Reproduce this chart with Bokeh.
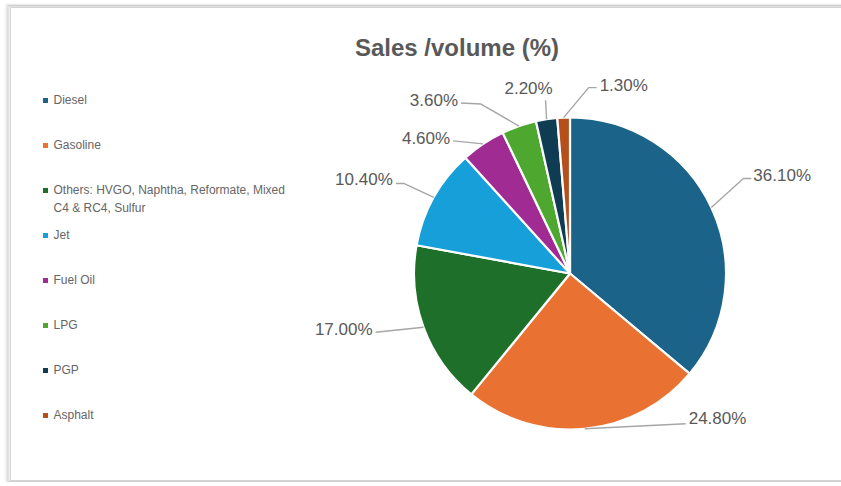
import math
import textwrap
from bokeh.plotting import figure
from bokeh.models import Range1d, ColumnDataSource
from bokeh.core.properties import value
from bokeh.embed import file_html
from bokeh.resources import INLINE

# ---------------- data ----------------
title = "Sales /volume (%)"
categories = ["Diesel", "Gasoline",
              "Others: HVGO, Naphtha, Reformate, Mixed C4 & RC4, Sulfur",
              "Jet", "Fuel Oil", "LPG", "PGP", "Asphalt"]
shares = [36.1, 24.8, 17.0, 10.4, 4.6, 3.6, 2.2, 1.3]
share_labels = ["36.10%", "24.80%", "17.00%", "10.40%", "4.60%", "3.60%", "2.20%", "1.30%"]

# ---------------- styles / layout ----------------
colors = ["#1B6388", "#E97132", "#1E6F2A", "#169FD8", "#A02B93", "#4EA72E", "#0F3C52", "#B5501C"]
W, H = 841, 486
PLOT_H = 482                              # slightly shorter than the window to avoid scrolling
CX, CY, R = 569.5, 273.0, 156.0          # pie centre / radius (screen px)
# leader line layout: (elbow dx, dy), (end dx, dy), text align, text dx, dy (screen px, y down)
leader_layout = [
    ((32, -29), (40, -29), "left", 2, -3),
    ((101, -5), (101, -5), "left", 3, -5),
    ((-48, 5), (-48, 5), "right", -3, -3),
    ((-30, -14), (-38, -14), "right", -3, -4),
    ((-30, -3), (-30, -3), "right", -3, -2),
    ((-38, -22), (-58, -23), "right", -3, -3),
    ((-1, -19), (-1, -19), "center", -17, -12),
    ((25, -30), (33, -30), "left", 3, -2),
]
TEXT_GREY = "#595959"


def sy(v):
    return H - v


p = figure(width=W, height=PLOT_H, output_backend="svg", toolbar_location=None,
           x_range=Range1d(0, W), y_range=Range1d(H - PLOT_H, H),
           x_axis_location=None, y_axis_location=None, min_border=0)
p.grid.visible = False
p.outline_line_color = None
p.background_fill_color = "white"
p.border_fill_color = "white"

# chart frame with soft shadow (right edge runs off the page)
for i, a in enumerate([0.10, 0.18, 0.30]):
    p.quad(left=5 + i * 1.5, right=W + 60, top=sy(4 + i * 0.7), bottom=sy(482 - i * 0.5),
           fill_color=None, line_color="#9a9a9a", line_alpha=a, line_width=2)
p.quad(left=10, right=W + 60, top=sy(7), bottom=sy(480),
       fill_color="white", line_color="#d4d4d4", line_width=1)

# title
p.text(x=[456.5], y=[sy(47)], text=[title], text_align="center", text_baseline="middle",
       text_font=value("Liberation Sans"), text_font_style="bold", text_font_size="24px",
       text_color=TEXT_GREY)

# pie wedges
total = sum(shares)
cum = [0.0]
for s in shares:
    cum.append(cum[-1] + s)
start = [math.pi / 2 - 2 * math.pi * cum[i] / total for i in range(len(shares))]
end = [math.pi / 2 - 2 * math.pi * cum[i + 1] / total for i in range(len(shares))]
src = ColumnDataSource(dict(start=start, end=end, color=colors, cat=categories))
p.wedge(x=CX, y=sy(CY), radius=R, start_angle="start", end_angle="end", direction="clock",
        fill_color="color", line_color="white", line_width=2.2, source=src)

# leader lines and labels
xs, ys, tx, ty, ta = [], [], [], [], []
for i in range(len(shares)):
    mid = 2 * math.pi * (cum[i] + cum[i + 1]) / 2 / total   # clockwise from 12 o'clock
    ex = CX + R * math.sin(mid)
    ey = CY - R * math.cos(mid)
    (edx, edy), (ndx, ndy), align, tdx, tdy = leader_layout[i]
    xs.append([ex, ex + edx, ex + ndx])
    ys.append([sy(ey), sy(ey + edy), sy(ey + ndy)])
    tx.append(ex + ndx + tdx)
    ty.append(sy(ey + ndy + tdy))
    ta.append(align)
p.multi_line(xs=xs, ys=ys, line_color="#a6a6a6", line_width=1.4)
p.text(x=tx, y=ty, text=share_labels, text_align=ta, text_baseline="middle",
       text_font=value("Liberation Sans"), text_font_size="17px", text_color=TEXT_GREY)

# legend (left column)
LEG_X, LEG_Y0, LEG_DY = 45, 100, 45
leg_y = [LEG_Y0 + i * LEG_DY for i in range(len(categories))]
leg_text = [textwrap.fill(c, 40) for c in categories]
p.rect(x=[LEG_X] * len(categories), y=[sy(v) for v in leg_y], width=5, height=5,
       fill_color=colors, line_color=None)
p.text(x=[LEG_X + 8] * len(categories), y=[sy(v - 8) for v in leg_y], text=leg_text,
       text_align="left", text_baseline="top", text_line_height=1.35,
       text_font=value("Liberation Sans"), text_font_size="12px", text_color="#666666")

open("out.html", "w").write(file_html(p, INLINE))
